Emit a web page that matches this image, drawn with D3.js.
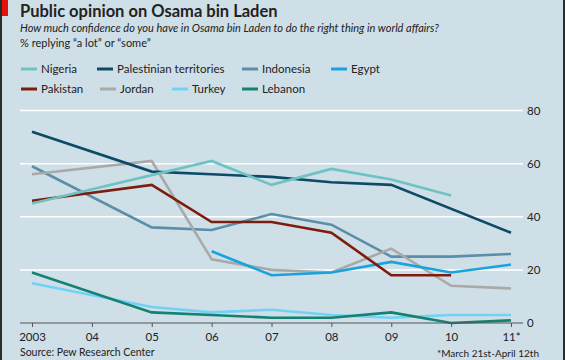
<!DOCTYPE html>
<html>
<head>
<meta charset="utf-8">
<script src="https://cdn.jsdelivr.net/npm/d3@7"></script>
<style>
  body { margin: 0; background: #fff; }
  svg text { font-family: Lato, "Open Sans", sans-serif; fill: #222; }
</style>
</head>
<body>
<div class="canvas"></div>
<script>
const dims = { width: 565, height: 360 }

// data
const years = [2003, 2004, 2005, 2006, 2007, 2008, 2009, 2010, 2011]
const yearLabels = ['2003', '04', '05', '06', '07', '08', '09', '10', '11*']
const yTicks = [0, 20, 40, 60, 80]

const seriesNames = ['Nigeria', 'Palestinian territories', 'Indonesia', 'Egypt',
  'Pakistan', 'Jordan', 'Turkey', 'Lebanon']
const seriesColors = ['#6fc2c2', '#0d4a68', '#5b8fa8', '#19a3dc',
  '#7c1d0e', '#a9a9a9', '#72d2f6', '#138272']

// one value per year, null = no survey
const nigeria     = [45, null, null, 61, 52, 58, 54, 48, null]
const palestinian = [72, null, 57, 56, 55, 53, 52, null, 34]
const indonesia   = [59, null, 36, 35, 41, 37, 25, 25, 26]
const egypt       = [null, null, null, 27, 18, 19, 23, 19, 22]
const pakistan    = [46, null, 52, 38, 38, 34, 18, 18, null]
const jordan      = [56, null, 61, 24, 20, 19, 28, 14, 13]
const turkey      = [15, null, 6, 4, 5, 3, 2, 3, 3]
const lebanon     = [19, null, 4, 3, 2, 2, 4, 0, 1]

const seriesValues = [nigeria, palestinian, indonesia, egypt, pakistan, jordan, turkey, lebanon]
// draw order: back to front
const drawOrder = [6, 7, 2, 5, 3, 4, 1, 0]

const svg = d3.select('.canvas')
  .append('svg')
  .attr('width', dims.width)
  .attr('height', dims.height)

// background + frame
svg.append('rect')
  .attr('width', dims.width)
  .attr('height', dims.height)
  .attr('fill', '#cfdfe7')
svg.append('rect').attr('x', 0).attr('y', 0).attr('width', 2).attr('height', dims.height).attr('fill', '#2b2b2b')
svg.append('rect').attr('x', 563).attr('y', 0).attr('width', 2).attr('height', dims.height).attr('fill', '#2b2b2b')
svg.append('rect').attr('x', 2).attr('y', 0).attr('width', 6).attr('height', 16).attr('fill', '#e3120b')

// titles
svg.append('text')
  .attr('x', 20).attr('y', 17)
  .attr('font-size', 16.5).attr('font-weight', 'bold')
  .text('Public opinion on Osama bin Laden')
svg.append('text')
  .attr('x', 20).attr('y', 32)
  .attr('font-size', 11).attr('font-style', 'italic')
  .text('How much confidence do you have in Osama bin Laden to do the right thing in world affairs?')
svg.append('text')
  .attr('x', 20).attr('y', 47)
  .attr('font-size', 11)
  .text('% replying \u201ca lot\u201d or  \u201csome\u201d')

// legend
const legendPos = [[21, 69], [97, 69], [242, 69], [331, 69], [21, 89], [100, 89], [172, 89], [242, 89]]
const legend = svg.selectAll('.legend')
  .data(seriesNames)
  .enter()
  .append('g')
    .attr('class', 'legend')
    .attr('transform', (d, i) => `translate(${legendPos[i][0]}, ${legendPos[i][1]})`)
legend.append('line')
  .attr('x1', 0).attr('x2', 16)
  .attr('stroke', (d, i) => seriesColors[i])
  .attr('stroke-width', 3)
legend.append('text')
  .attr('x', 20).attr('y', 4)
  .attr('font-size', 11.5)
  .text(d => d)

// scales
const x = d3.scaleLinear().domain([2003, 2011]).range([32, 511])
const y = d3.scaleLinear().domain([0, 80]).range([323, 110.5])

// gridlines
svg.selectAll('.grid')
  .data(yTicks.filter(t => t > 0))
  .enter()
  .append('line')
    .attr('class', 'grid')
    .attr('x1', 20).attr('x2', 523)
    .attr('y1', d => y(d)).attr('y2', d => y(d))
    .attr('stroke', '#fff')
    .attr('stroke-width', 1.5)

// y labels on the right
svg.selectAll('.ylab')
  .data(yTicks)
  .enter()
  .append('text')
    .attr('class', 'ylab')
    .attr('x', 527)
    .attr('y', d => y(d) + 4)
    .attr('font-size', 11.5)
    .text(d => d)

// lines (skip years without a survey, join the rest)
const line = d3.line()
  .x(p => x(p[0]))
  .y(p => y(p[1]))

const points = i => years
  .map((yr, j) => [yr, seriesValues[i][j]])
  .filter(p => p[1] != null)

svg.selectAll('.series')
  .data(drawOrder)
  .enter()
  .append('path')
    .attr('class', 'series')
    .attr('fill', 'none')
    .attr('stroke', i => seriesColors[i])
    .attr('stroke-width', 2.6)
    .attr('d', i => line(points(i)))

// x axis
const xAxis = d3.axisBottom(x)
  .tickValues(years)
  .tickFormat((d, i) => yearLabels[i])
  .tickSize(4)
  .tickPadding(6)
const xg = svg.append('g')
  .attr('transform', `translate(0, ${y(0)})`)
  .call(xAxis)
xg.select('.domain').remove()
xg.append('line')
  .attr('x1', 20).attr('x2', 523)
  .attr('stroke', '#555').attr('stroke-width', 1.2)
xg.selectAll('.tick line').attr('stroke', '#555')
xg.selectAll('.tick text')
  .attr('font-size', 11.5)
  .attr('fill', '#222')
  .style('font-family', 'Lato, "Open Sans", sans-serif')

// notes
svg.append('text')
  .attr('x', 20).attr('y', 356)
  .attr('font-size', 10.5)
  .text('Source: Pew Research Center')
svg.append('text')
  .attr('x', 539).attr('y', 357)
  .attr('text-anchor', 'end')
  .attr('font-size', 10)
  .text('*March 21st-April 12th')
</script>
</body>
</html>
